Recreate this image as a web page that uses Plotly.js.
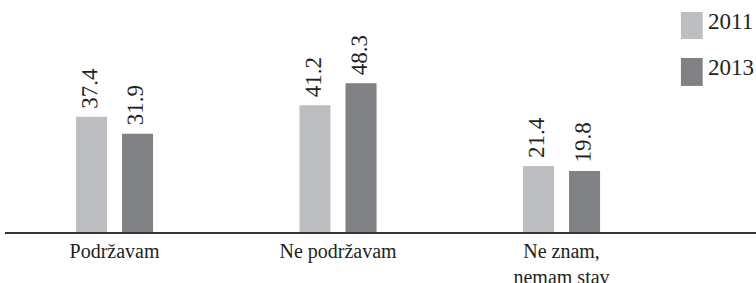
<!DOCTYPE html>
<html>
<head>
<meta charset="utf-8">
<script src="https://cdn.plot.ly/plotly-3.0.1.min.js"></script>
<style>
  html, body { margin: 0; padding: 0; background: #ffffff; }
  #chart { width: 756px; height: 283px; }
</style>
</head>
<body>
<div id="chart"></div>
<script>
// ---- data ----
const categories = ["Podržavam", "Ne podržavam", "Ne znam,<br>nemam stav"];
const seriesNames = ["2011", "2013"];
const values2011 = [37.4, 41.2, 21.4];
const values2013 = [31.9, 48.3, 19.8];
const seriesColors = ["#bdbec1", "#808185"];

const FONT = "Liberation Serif";
const TEXTCOL = "#231f20";
const BARGAP = 0.588;
const BARGROUPGAP = 0.326;

const seriesValues = [values2011, values2013];

const data = seriesValues.map((vals, k) => ({
  type: "bar",
  name: seriesNames[k],
  x: categories,
  y: vals,
  marker: { color: seriesColors[k], line: { width: 0 } },
  textposition: "none",
  hoverinfo: "x+y",
  showlegend: false
}));

const shapes = [];
const annotations = [];

// value labels, rotated, placed above each bar through the axes
const slot = (1 - BARGAP) / seriesValues.length;
seriesValues.forEach((vals, k) => {
  vals.forEach((v, i) => {
    annotations.push({
      xref: "x", yref: "y",
      x: i + (k - (seriesValues.length - 1) / 2) * slot,
      y: v,
      yshift: 6,
      xshift: -2,
      xanchor: "center", yanchor: "bottom",
      textangle: -89.9,
      showarrow: false,
      text: v.toFixed(1),
      font: { family: FONT, size: 23, color: TEXTCOL }
    });
  });
});

// custom legend (squares + labels) in paper coordinates
const legendRows = [
  { y0: 0.869, y1: 0.991, ty: 0.948 },
  { y0: 0.658, y1: 0.784, ty: 0.743 }
];
seriesNames.forEach((n, i) => {
  const r = legendRows[i];
  shapes.push({
    type: "rect", xref: "paper", yref: "paper",
    x0: 0.900, x1: 0.929, y0: r.y0, y1: r.y1,
    fillcolor: seriesColors[i], line: { width: 0 }, layer: "above"
  });
  annotations.push({
    xref: "paper", yref: "paper", x: 0.933, y: r.ty,
    xanchor: "left", yanchor: "middle", showarrow: false,
    text: n, font: { family: FONT, size: 23, color: TEXTCOL }
  });
});

const layout = {
  width: 756,
  height: 283,
  margin: { l: 5, r: 0, t: 10, b: 51 },
  paper_bgcolor: "#ffffff",
  plot_bgcolor: "#ffffff",
  barmode: "group",
  bargap: BARGAP,
  bargroupgap: BARGROUPGAP,
  showlegend: false,
  font: { family: FONT, color: TEXTCOL },
  xaxis: {
    type: "category",
    range: [-0.49, 2.87],
    showline: true,
    linecolor: "#333333",
    linewidth: 1.5,
    ticks: "",
    showgrid: false,
    zeroline: false,
    tickfont: { family: FONT, size: 20, color: TEXTCOL },
    fixedrange: true
  },
  yaxis: {
    range: [0, 72.1],
    visible: false,
    showgrid: false,
    zeroline: false,
    fixedrange: true
  },
  shapes: shapes,
  annotations: annotations
};

Plotly.newPlot("chart", data, layout, { displayModeBar: false, staticPlot: true });
</script>
</body>
</html>
